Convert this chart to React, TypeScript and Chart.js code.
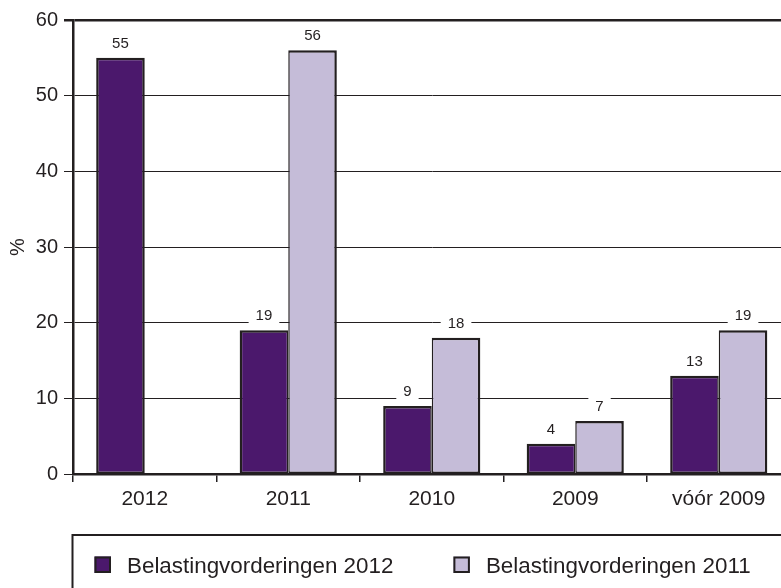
import React, { useEffect, useRef } from "react";
import { Chart, registerables } from "chart.js";

Chart.register(...registerables);

const categories = ["2012", "2011", "2010", "2009", "vóór 2009"];
const values2012 = [55, 19, 9, 4, 13];
const values2011 = [null, 56, 18, 7, 19];
const seriesNames = ["Belastingvorderingen 2012", "Belastingvorderingen 2011"];
const yMin = 0;
const yMax = 60;
const yStep = 10;
const yTitle = "%";

const DARK = "#4b186c";
const LIGHT = "#c5bcd8";
const INK = "#231f20";
const FONT = "'Liberation Sans', Arial, Helvetica, sans-serif";

const valueLabels = {
  id: "valueLabels",
  afterDatasetsDraw(chart: any) {
    const ctx = chart.ctx;
    ctx.save();
    ctx.font = `15px ${FONT}`;
    ctx.textAlign = "center";
    ctx.textBaseline = "middle";
    chart.data.datasets.forEach((ds: any, i: number) => {
      const meta = chart.getDatasetMeta(i);
      meta.data.forEach((bar: any, j: number) => {
        const v = ds.data[j];
        if (v === null || v === undefined) return;
        const text = String(v);
        const w = ctx.measureText(text).width;
        const cx = bar.x;
        const cy = bar.y - 14.5;
        ctx.fillStyle = "#ffffff";
        ctx.fillRect(cx - w / 2 - 7, cy - 9, w + 14, 18);
        ctx.fillStyle = INK;
        ctx.fillText(text, cx, cy + 0.5);
      });
    });
    ctx.restore();
  },
};

const boxLegend = {
  id: "boxLegend",
  afterDraw(chart: any) {
    const { ctx, chartArea } = chart;
    ctx.save();
    const top = chartArea.bottom + 61;
    const left = chartArea.left - 0.5;
    ctx.strokeStyle = INK;
    ctx.lineWidth = 2;
    ctx.beginPath();
    ctx.moveTo(left, chart.height + 5);
    ctx.lineTo(left, top);
    ctx.lineTo(chart.width + 5, top);
    ctx.stroke();
    ctx.font = `22.4px ${FONT}`;
    ctx.textAlign = "left";
    ctx.textBaseline = "alphabetic";
    let x = chartArea.left + 21.5;
    const sqY = top + 21.5;
    const size = 16.5;
    chart.data.datasets.forEach((ds: any) => {
      ctx.fillStyle = ds.backgroundColor;
      ctx.fillRect(x, sqY, size, size);
      ctx.lineWidth = 2;
      ctx.strokeStyle = INK;
      ctx.strokeRect(x + 1, sqY + 1, size - 2, size - 2);
      ctx.fillStyle = INK;
      ctx.fillText(ds.label, x + 32.5, sqY + 16.5);
      x += 32.5 + ctx.measureText(ds.label).width + 60;
    });
    ctx.restore();
  },
};

export default function App() {
  const ref = useRef<HTMLCanvasElement | null>(null);

  useEffect(() => {
    if (!ref.current) return;
    const chart = new Chart(ref.current, {
      type: "bar",
      data: {
        labels: categories,
        datasets: [
          {
            label: seriesNames[0],
            data: values2012,
            backgroundColor: DARK,
            borderColor: INK,
            borderWidth: (c: any) => ({
              top: 2.5,
              left: 2.5,
              bottom: 2,
              right: values2011[c.dataIndex] == null ? 2.5 : 1.5,
            }),
            borderSkipped: false,
            categoryPercentage: 0.677,
            barPercentage: 1,
          },
          {
            label: seriesNames[1],
            data: values2011,
            backgroundColor: LIGHT,
            borderColor: INK,
            borderWidth: { top: 2.5, left: 1.5, bottom: 2, right: 2.5 },
            borderSkipped: false,
            categoryPercentage: 0.677,
            barPercentage: 1,
          },
        ],
      },
      options: {
        responsive: false,
        animation: false,
        layout: { padding: { top: 20, right: 9.5, bottom: 74, left: 0 } },
        plugins: {
          legend: { display: false },
          tooltip: { enabled: false },
        },
        scales: {
          x: {
            offset: true,
            grid: {
              display: true,
              drawOnChartArea: false,
              drawTicks: true,
              tickLength: 8,
              color: INK,
              lineWidth: 1.5,
              offset: true,
            },
            border: { display: true, color: INK, width: 2.5 },
            ticks: {
              color: INK,
              font: { family: FONT, size: 21 },
              padding: 5,
              maxRotation: 0,
              autoSkip: false,
            },
            afterFit: (s: any) => {
              s.height = 40;
            },
          },
          y: {
            min: yMin,
            max: yMax,
            ticks: {
              stepSize: yStep,
              color: INK,
              font: { family: FONT, size: 20 },
              padding: 6,
            },
            grid: {
              color: INK,
              lineWidth: (c: any) => (c.tick && c.tick.value === yMax ? 2.5 : 1),
              tickLength: 9,
              drawTicks: true,
            },
            border: { display: true, color: INK, width: 2.5 },
            title: {
              display: true,
              text: yTitle,
              color: INK,
              font: { family: FONT, size: 20 },
              padding: { top: 6, bottom: 0 },
            },
            afterFit: (s: any) => {
              s.width = 73;
            },
          },
        },
      },
      plugins: [valueLabels, boxLegend],
    });
    return () => chart.destroy();
  }, []);

  return (
    <div
      style={{
        position: "fixed",
        left: 0,
        top: 0,
        width: 781,
        height: 588,
        overflow: "hidden",
        background: "#ffffff",
      }}
    >
      <canvas
        ref={ref}
        width={800}
        height={588}
        style={{ display: "block", width: 800, height: 588 }}
      />
    </div>
  );
}
